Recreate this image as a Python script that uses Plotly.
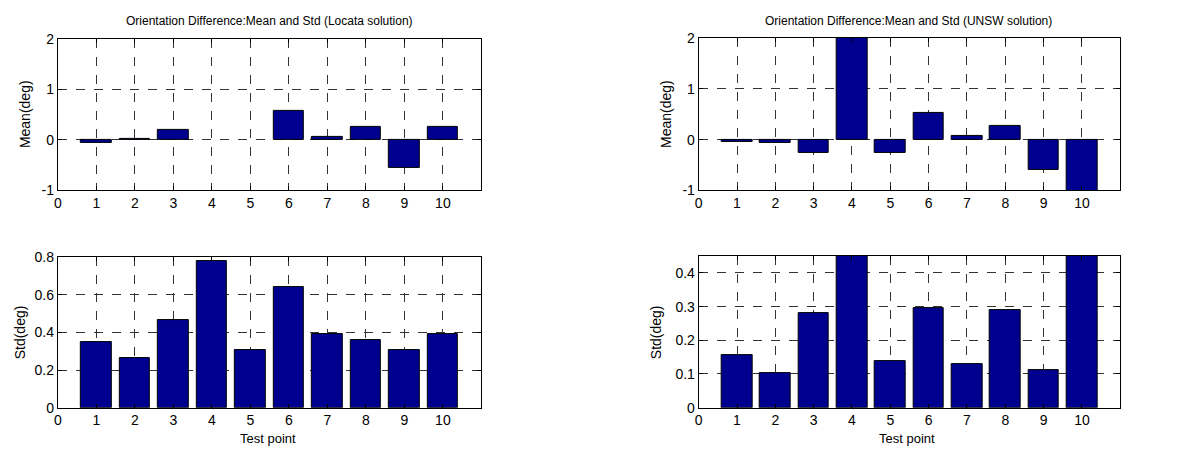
import plotly.graph_objects as go

points = [1, 2, 3, 4, 5, 6, 7, 8, 9, 10]
locata_mean = [-0.06, 0.02, 0.2, 0.0, 0.0, 0.57, 0.07, 0.25, -0.55, 0.25]
locata_std = [0.35, 0.263, 0.467, 0.78, 0.304, 0.64, 0.389, 0.358, 0.304, 0.389]
unsw_mean = [-0.05, -0.07, -0.27, 2.6, -0.27, 0.53, 0.08, 0.27, -0.6, -1.1]
unsw_std = [0.157, 0.103, 0.282, 0.6, 0.137, 0.295, 0.128, 0.291, 0.111, 0.5]

x_ticks = [0, 1, 2, 3, 4, 5, 6, 7, 8, 9, 10]
mean_ticks = [-1, 0, 1, 2]
std_ticks_locata = [0, 0.2, 0.4, 0.6, 0.8]
std_ticks_unsw = [0, 0.1, 0.2, 0.3, 0.4]

W, H = 1198, 462
BAR = "rgb(0,0,143)"
FONT = "Liberation Sans, Arial, sans-serif"

fig = go.Figure()
series = [(locata_mean, "x", "y"), (unsw_mean, "x2", "y2"),
          (locata_std, "x3", "y3"), (unsw_std, "x4", "y4")]
for vals, xa, ya in series:
    widths = [0 if v == 0 else 1 for v in vals]
    fig.add_trace(go.Bar(x=points, y=vals, xaxis=xa, yaxis=ya, width=0.8,
                         marker=dict(color=BAR, line=dict(color="black", width=widths)),
                         showlegend=False, hoverinfo="x+y"))

def px_dom(a, b, total):
    return [a / total, b / total]

xdoms = {1: px_dom(54, 479, W), 2: px_dom(697, 1120, W),
         3: px_dom(54, 479, W), 4: px_dom(697, 1120, W)}
ydoms = {1: px_dom(H - 189, H - 32, H), 2: px_dom(H - 189, H - 31, H),
         3: px_dom(H - 414, H - 258, H), 4: px_dom(H - 414, H - 257, H)}
yranges = {1: [-1, 2], 2: [-1, 2], 3: [0, 0.8], 4: [0, 0.45]}
yticks = {1: mean_ticks, 2: mean_ticks, 3: std_ticks_locata, 4: std_ticks_unsw}

def fmt(v):
    return f"{v:g}"

common = dict(showline=True, linecolor="black", linewidth=1, mirror="ticks",
              ticks="inside", ticklen=4, tickcolor="black",
              showgrid=True, gridcolor="#333333", griddash="dash", gridwidth=1,
              zeroline=False, tickfont=dict(family=FONT, size=14, color="black"))

lay = {}
for i in range(1, 5):
    xs = "xaxis" if i == 1 else f"xaxis{i}"
    ys = "yaxis" if i == 1 else f"yaxis{i}"
    yref = "y" if i == 1 else f"y{i}"
    xref = "x" if i == 1 else f"x{i}"
    lay[xs] = dict(domain=xdoms[i], range=[0, 11], tickmode="array",
                   tickvals=x_ticks, ticktext=[fmt(v) for v in x_ticks],
                   anchor=yref, **common)
    lay[ys] = dict(domain=ydoms[i], range=yranges[i], tickmode="array",
                   tickvals=yticks[i], ticktext=[fmt(v) for v in yticks[i]],
                   anchor=xref, **common)
fig.update_layout(**lay)

ann = []
def txt(x, y, s, size=14, angle=0):
    ann.append(dict(x=x / W, y=1 - y / H, xref="paper", yref="paper", text=s,
                    showarrow=False, textangle=angle, xanchor="center", yanchor="middle",
                    font=dict(family=FONT, size=size, color="black")))

txt(266, 13, "Orientation Difference:Mean and Std (Locata solution)", size=12)
txt(908, 13, "Orientation Difference:Mean and Std (UNSW solution)", size=12)
txt(21, 110, "Mean(deg)", angle=-90)
txt(664, 110, "Mean(deg)", angle=-90)
txt(16, 336, "Std(deg)", angle=-90)
txt(655, 336, "Std(deg)", angle=-90)
txt(265, 446, "Test point", size=13)
txt(906, 446, "Test point", size=13)

fig.update_layout(annotations=ann, width=W, height=H,
                  margin=dict(l=0, r=0, t=0, b=0),
                  paper_bgcolor="white", plot_bgcolor="white", bargap=0)
fig.write_html("out.html")
